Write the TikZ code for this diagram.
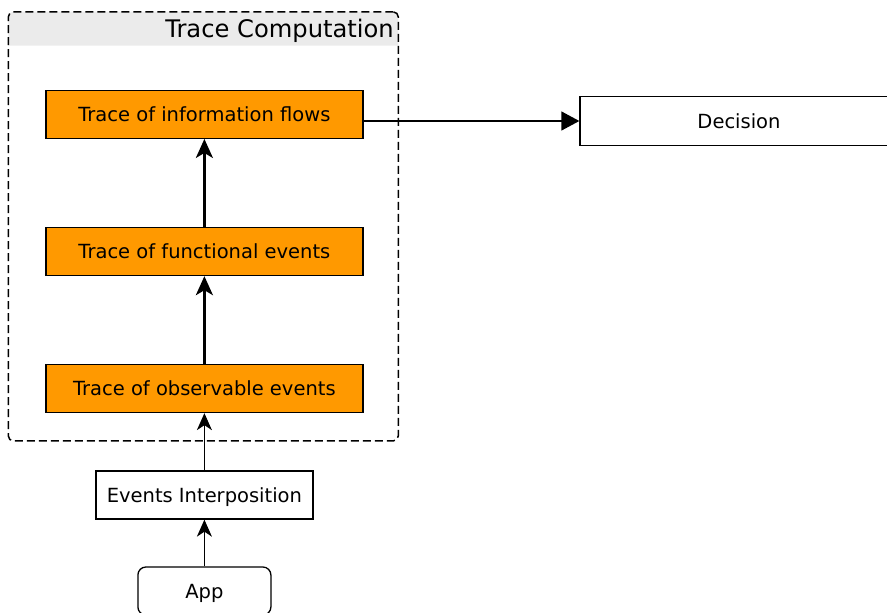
\documentclass[tikz,border=0pt]{standalone}
\usepackage{fontspec}
\setmainfont{DejaVu Sans}
\usetikzlibrary{arrows.meta}
\definecolor{flowfill}{HTML}{FF9900}
\definecolor{headgray}{HTML}{EBEBEB}
\tikzset{
	flowbox/.style={draw, fill=flowfill, line width=1.3pt, minimum width=317pt, minimum height=48pt, text height=14.2pt, text depth=0pt, font=\fontsize{19.5}{23}\selectfont},
	plainbox/.style={draw, fill=white, line width=1.3pt, minimum height=48pt, text height=14.2pt, text depth=0pt, font=\fontsize{19.5}{23}\selectfont},
	container/.style={draw, dash pattern=on 8pt off 4pt, rounded corners=5pt, line width=1.5pt, minimum width=390pt, minimum height=429pt},
	thickarrow/.style={-{Stealth[length=19pt,width=17pt,inset=5pt]}, line width=2.5pt},
	thinarrow/.style={-{Stealth[length=17pt,width=15pt,inset=5pt]}, line width=1.3pt},
}

\begin{document}
\begin{tikzpicture}[x=1pt, y=-1pt]
		\useasboundingbox (0,0) rectangle (887,613);
		\fill[headgray] (8.3,45.7) [rounded corners=5pt] -- (8.3,11.7) -- (398.3,11.7) [sharp corners] -- (398.3,45.7) -- cycle;
		\node (trace)[container] at (203.3,226.4) {};
		\node (title)[anchor=base east, inner sep=0pt, font=\fontsize{24.2}{28}\selectfont] at (394,37) {Trace Computation};
		\node (infoflows)[flowbox] at (204.4,114.3) {Trace of information flows};
		\node (funcevents)[flowbox] at (204.4,251.5) {Trace of functional events};
		\node (obsevents)[flowbox] at (204.4,388.5) {Trace of observable events};
		\node (interpos)[plainbox, minimum width=217pt] at (204.4,495) {Events Interposition};
		\node (app)[plainbox, rounded corners=8pt, minimum width=133pt] at (204.4,591) {App};
		\node (decision)[plainbox, minimum width=318pt, minimum height=49pt] at (739,121) {Decision};
		\draw [thickarrow](obsevents)--(funcevents);
		\draw [thickarrow](funcevents)--(infoflows);
		\draw [thinarrow](interpos)--(obsevents);
		\draw [thinarrow](app)--(interpos);
		\draw [-{Triangle[length=18pt,width=19pt]}, line width=1.3pt](infoflows.east |- decision)--(decision.west);
	\end{tikzpicture}
\end{document}
